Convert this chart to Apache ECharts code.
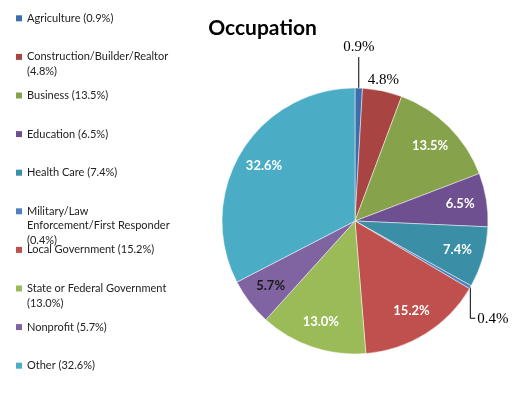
<!DOCTYPE html>
<html>
<head>
<meta charset="utf-8">
<script src="https://cdn.jsdelivr.net/npm/echarts@6/dist/echarts.min.js"></script>
<style>
html,body{margin:0;padding:0;background:#fff;}
#chart{width:525px;height:402px;}
</style>
</head>
<body>
<div id="chart"></div>
<script>
// ---- data ----
var categories = [
  'Agriculture',
  'Construction/Builder/Realtor',
  'Business',
  'Education',
  'Health Care',
  'Military/Law Enforcement/First Responder',
  'Local Government',
  'State or Federal Government',
  'Nonprofit',
  'Other'
];
var values = [0.9, 4.8, 13.5, 6.5, 7.4, 0.4, 15.2, 13.0, 5.7, 32.6];
var legendLabels = [
  'Agriculture (0.9%)',
  'Construction/Builder/Realtor\n(4.8%)',
  'Business (13.5%)',
  'Education (6.5%)',
  'Health Care (7.4%)',
  'Military/Law\nEnforcement/First Responder\n(0.4%)',
  'Local Government (15.2%)',
  'State or Federal Government\n(13.0%)',
  'Nonprofit (5.7%)',
  'Other (32.6%)'
];
var titleText = 'Occupation';

// ---- styles ----
var palette = ['#3C6EAE', '#A84442', '#86A34B', '#6E5090', '#3A8EA6',
               '#4F81BD', '#C0504D', '#9BBB59', '#8064A2', '#4BACC6'];
var CX = 355, CY = 221, R = 133;
var legendFirst = 18.3, legendStep = 38.6, lh = 14.5;

var chart = echarts.init(document.getElementById('chart'), null, {renderer: 'canvas'});

var legends = categories.map(function (name, i) {
  var lines = legendLabels[i].split('\n').length;
  var yc = legendFirst + i * legendStep;
  // leading blank lines keep the first text line level with the icon
  var shown = new Array(lines).join('\n') + legendLabels[i];
  return {
    show: true,
    left: 16,
    top: yc - (2 * lines - 1) * lh / 2,
    orient: 'vertical',
    padding: 0,
    itemWidth: 6,
    itemHeight: 6,
    itemGap: 0,
    icon: 'rect',
    selectedMode: false,
    data: [{name: name, itemStyle: {color: palette[i], borderWidth: 0}}],
    formatter: function () { return shown; },
    textStyle: {
      fontFamily: 'Lato',
      fontSize: 11,
      color: '#222',
      lineHeight: lh
    }
  };
});

var outerFont = {fontFamily: 'Liberation Serif', fontSize: 15, color: '#000'};

var mainData = categories.map(function (name, i) {
  var outside = values[i] < 5;
  return {
    name: name,
    value: values[i],
    label: {show: outside},
    labelLine: {show: outside}
  };
});

var innerData = categories.map(function (name, i) {
  var inside = values[i] >= 5;
  return {
    name: name,
    value: values[i],
    label: {show: inside, color: name === 'Nonprofit' ? '#1a1a1a' : '#ffffff'}
  };
});

var option = {
  backgroundColor: '#ffffff',
  animation: false,
  color: palette,
  title: {
    text: titleText,
    left: 'center',
    top: 13,
    textStyle: {fontFamily: 'Lato', fontWeight: 'bold', fontSize: 21, color: '#000'}
  },
  legend: legends,
  series: [
    {
      type: 'pie',
      center: [CX, CY],
      radius: [0, R],
      startAngle: 90,
      clockwise: true,
      avoidLabelOverlap: false,
      itemStyle: {borderColor: 'rgba(255,255,255,0.8)', borderWidth: 0.6},
      label: Object.assign({position: 'outside', formatter: function (p) { return p.value.toFixed(1) + '%'; }}, outerFont),
      labelLine: {length: 20, length2: 0, lineStyle: {color: '#000', width: 1}},
      labelLayout: function (p) {
        var pts = p.labelLinePoints;
        if (!pts) return {};
        var a = pts[0];
        var name = categories[p.dataIndex];
        if (name === 'Agriculture') {
          return {x: a[0], y: a[1] - 33, align: 'center', verticalAlign: 'bottom',
                  labelLinePoints: [a, [a[0], a[1] - 31]]};
        }
        if (name === 'Construction/Builder/Realtor') {
          return {x: a[0] + 1, y: a[1] - 3, align: 'center', verticalAlign: 'bottom',
                  labelLinePoints: [a, a]};
        }
        return {x: a[0] + 7, y: a[1] + 32, align: 'left', verticalAlign: 'middle',
                labelLinePoints: [a, [a[0], a[1] + 31], [a[0] + 5, a[1] + 31]]};
      },
      emphasis: {disabled: true},
      data: mainData
    },
    {
      type: 'pie',
      center: [CX, CY],
      radius: [74, R],
      startAngle: 90,
      clockwise: true,
      silent: true,
      avoidLabelOverlap: false,
      itemStyle: {color: 'rgba(0,0,0,0)', borderWidth: 0},
      label: {
        position: 'inside',
        rotate: 0,
        fontFamily: 'Lato',
        fontWeight: 'bold',
        fontSize: 13,
        formatter: function (p) { return p.value.toFixed(1) + '%'; }
      },
      labelLine: {show: false},
      emphasis: {disabled: true},
      data: innerData
    }
  ]
};

chart.setOption(option);
</script>
</body>
</html>
